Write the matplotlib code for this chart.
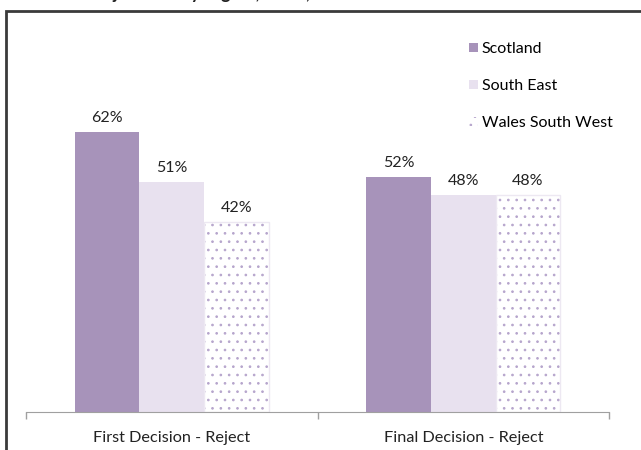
import matplotlib.pyplot as plt
from matplotlib.patches import Rectangle

categories = ['First Decision - Reject', 'Final Decision - Reject']
series = ['Scotland', 'South East', 'Wales South West']
scotland = [62, 52]
south_east = [51, 48]
wales_sw = [42, 48]

plt.rcParams['font.family'] = ['Lato', 'DejaVu Sans']
plt.rcParams['hatch.color'] = '#B6A5CC'
plt.rcParams['hatch.linewidth'] = 0.7

fig = plt.figure(figsize=(6.41, 4.5), dpi=100)

# cropped title at the very top, only descenders visible
fig.text(92 / 641, 1 + 1 / 450, 'Rejections by region, 2013, %', fontsize=13,
         fontweight='bold', ha='left', va='baseline', color='#222222')

# outer frame (left + top only, rest is cropped)
fig.patches.append(Rectangle((6 / 641, -0.1), 1.2, (450 - 11) / 450 + 0.1,
                             transform=fig.transFigure, fill=False,
                             edgecolor='#3a3a3a', linewidth=2))

ax = fig.add_axes([26 / 641, 38 / 450, 583 / 641, 316 / 450])

x = [0, 1]
w = 0.222
colors = ['#A793BA', '#E8E1EF', 'white']
data = [scotland, south_east, wales_sw]

for i, (name, vals) in enumerate(zip(series, data)):
    pos = [xi + (i - 1) * w for xi in x]
    if i == 2:
        bars = ax.bar(pos, vals, w, color='white', edgecolor='#B6A5CC',
                      hatch='..', linewidth=0, label=name)
        ax.bar(pos, vals, w, fill=False, edgecolor='#EDE8F2', linewidth=1)
    else:
        bars = ax.bar(pos, vals, w, color=colors[i], linewidth=0, label=name)
    for b, v in zip(bars, vals):
        ax.annotate(f'{v}%', (b.get_x() + b.get_width() / 2, v),
                    xytext=(0, 5), textcoords='offset points',
                    ha='center', va='bottom', fontsize=11.5, color='#222222')

ax.set_xlim(-0.5, 1.5)
ax.set_ylim(0, 70)
ax.set_xticks(x)
ax.set_xticklabels(categories, fontsize=11.7, color='#222222')
ax.set_xticks([-0.5, 0.5, 1.5], minor=True)
ax.tick_params(axis='x', which='major', length=0, pad=14)
ax.tick_params(axis='x', which='minor', length=5, color='#A0A0A0', width=1)
ax.set_yticks([])
for s in ['top', 'left', 'right']:
    ax.spines[s].set_visible(False)
ax.spines['bottom'].set_color('#A0A0A0')

ax.legend(loc='upper left', bbox_to_anchor=(469 / 641, 1 - 42 / 450),
          bbox_transform=fig.transFigure, frameon=False, fontsize=11.5,
          handlelength=0.55, handleheight=0.55, handletextpad=0.25,
          labelspacing=1.45, borderpad=0, borderaxespad=0)

fig.savefig('out.png', dpi=100)
